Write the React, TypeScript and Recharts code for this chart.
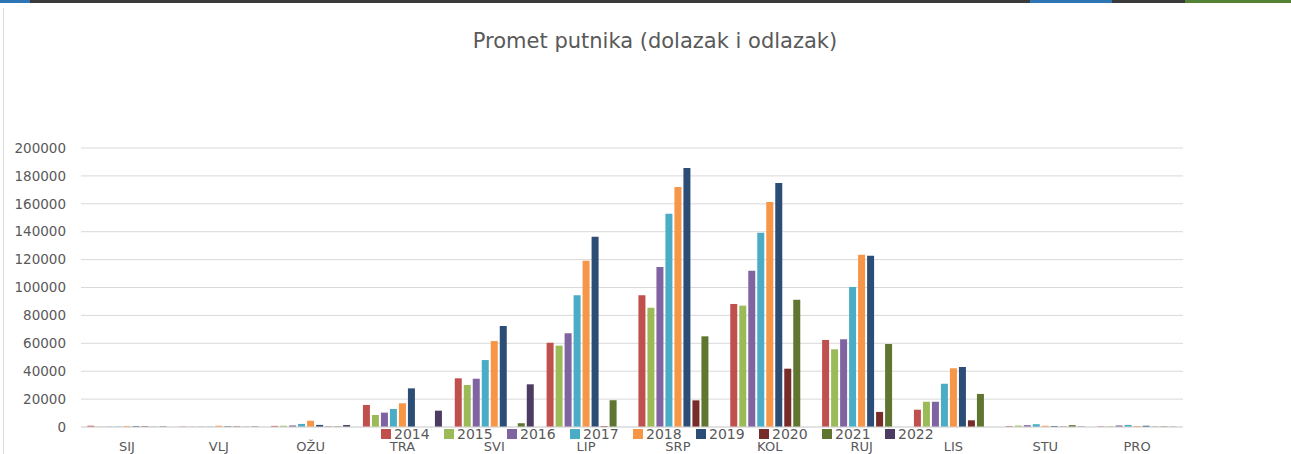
import { BarChart, Bar, XAxis, YAxis, CartesianGrid } from 'recharts';

const months = ['SIJ', 'VLJ', 'OŽU', 'TRA', 'SVI', 'LIP', 'SRP', 'KOL', 'RUJ', 'LIS', 'STU', 'PRO'];

const y2014 = [900, 300, 800, 15800, 34900, 60400, 94400, 88200, 62400, 12400, 600, 400];
const y2015 = [200, 200, 900, 8600, 30100, 58300, 85500, 87000, 55700, 18100, 1000, 500];
const y2016 = [200, 200, 1100, 10300, 34600, 67200, 114700, 112000, 62900, 18100, 1300, 1100];
const y2017 = [300, 300, 2200, 12900, 48000, 94400, 152900, 139300, 100400, 31000, 2000, 1500];
const y2018 = [700, 900, 4500, 17000, 61600, 119200, 172000, 161300, 123500, 42100, 900, 700];
const y2019 = [600, 500, 1500, 27700, 72400, 136400, 185700, 174900, 122800, 43000, 700, 900];
const y2020 = [500, 400, 300, 0, 0, 600, 19100, 41800, 10800, 4800, 300, 200];
const y2021 = [200, 200, 400, 0, 2700, 19200, 65000, 91200, 59500, 23700, 1300, 400];
const y2022 = [400, 300, 1400, 11700, 30600, 0, 0, 0, 0, 0, 300, 200];

const years = ['2014', '2015', '2016', '2017', '2018', '2019', '2020', '2021', '2022'];
const yearValues = [y2014, y2015, y2016, y2017, y2018, y2019, y2020, y2021, y2022];
const colors = ['#C0504D', '#9BBB59', '#8064A2', '#4BACC6', '#F79646', '#2C4D75', '#772C2A', '#5F7530', '#4D3B62'];

const yTicks = [0, 20000, 40000, 60000, 80000, 100000, 120000, 140000, 160000, 180000, 200000];

const data = months.map((m, i) => {
  const row: Record<string, string | number> = { month: m };
  years.forEach((y, j) => {
    row[y] = yearValues[j][i];
  });
  return row;
});

const font = '"DejaVu Sans", sans-serif';
const textColor = '#595959';

// legend sits on top of the x axis labels, like in the excel export
function LegendItems() {
  return (
    <div
      style={{
        position: 'absolute',
        top: 427,
        left: 381,
        display: 'flex',
        fontFamily: font,
        fontSize: 14,
        color: textColor,
        lineHeight: '14px',
        zIndex: 2,
      }}
    >
      {years.map((y, i) => (
        <div key={y} style={{ width: 63, display: 'flex', alignItems: 'center' }}>
          <span style={{ width: 10, height: 10, background: colors[i], marginRight: 3, display: 'inline-block' }} />
          {y}
        </div>
      ))}
    </div>
  );
}

export default function App() {
  return (
    <div style={{ position: 'fixed', left: 0, top: 0, width: 1291, height: 454, background: '#fff', overflow: 'hidden' }}>
      <div style={{ position: 'absolute', left: 0, top: 0, width: 1291, height: 3, background: '#3a3a3a' }} />
      <div style={{ position: 'absolute', left: 0, top: 0, width: 30, height: 3, background: '#2e75b6' }} />
      <div style={{ position: 'absolute', left: 1030, top: 0, width: 82, height: 3, background: '#2e75b6' }} />
      <div style={{ position: 'absolute', left: 1185, top: 0, width: 106, height: 3, background: '#548235' }} />
      <div style={{ position: 'absolute', left: 3, top: 8, width: 1, height: 446, background: '#d9d9d9' }} />
      <div
        style={{
          position: 'absolute',
          top: 29,
          left: 0,
          width: 1310,
          textAlign: 'center',
          fontFamily: font,
          fontSize: 21,
          color: textColor,
        }}
      >
        Promet putnika (dolazak i odlazak)
      </div>
      <BarChart
        width={1291}
        height={454}
        data={data}
        margin={{ top: 148, right: 108, left: 0, bottom: 0 }}
        barCategoryGap="7%"
        barGap={2}
      >
        <CartesianGrid vertical={false} stroke="#d9d9d9" />
        <XAxis
          dataKey="month"
          height={27}
          axisLine={{ stroke: '#d9d9d9' }}
          tickLine={false}
          tickMargin={9}
          tick={{ fill: textColor, fontSize: 13, fontFamily: font }}
          interval={0}
        />
        <YAxis
          width={81}
          domain={[0, 200000]}
          ticks={yTicks}
          axisLine={false}
          tickLine={false}
          tickMargin={9}
          tick={{ fill: textColor, fontSize: 13.5, fontFamily: font }}
        />
        {years.map((y, i) => (
          <Bar key={y} dataKey={y} fill={colors[i]} isAnimationActive={false} />
        ))}
      </BarChart>
      <LegendItems />
    </div>
  );
}
